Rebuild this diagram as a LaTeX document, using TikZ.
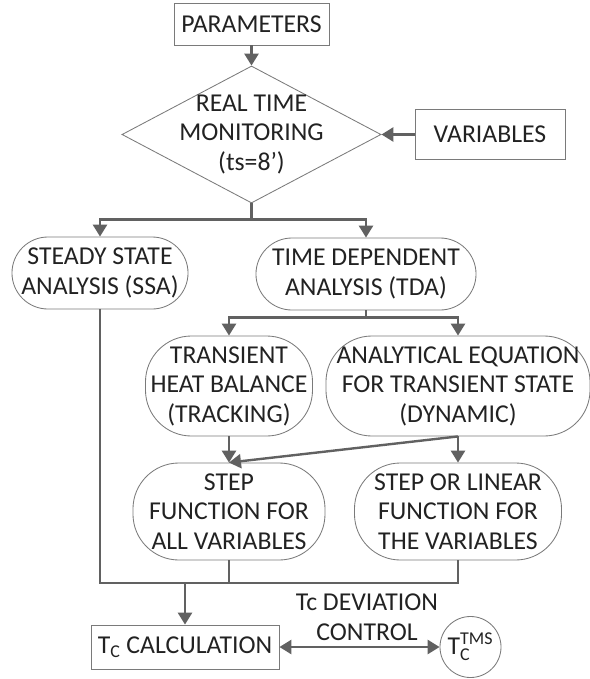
\documentclass[tikz,border=0pt]{standalone}
\usepackage{fontspec}
\setmainfont{Carlito}
\usepackage{amsmath}
\usepackage{tikz}
\usetikzlibrary{shapes.geometric,arrows.meta}

\definecolor{txtgray}{HTML}{222222}
\definecolor{boxgray}{HTML}{7A7A7A}
\definecolor{linegray}{HTML}{616161}

\tikzset{
  every node/.style={font=\fontsize{18.3}{21}\selectfont, text=txtgray, align=center, inner sep=0pt},
  box/.style={draw=boxgray, line width=0.6pt},
  pill/.style={box, rounded corners=0.9cm},
  tallpill/.style={box, rounded corners=1.15cm},
  link/.style={draw=linegray, line width=1.7pt},
  flow/.style={link, -{Triangle[length=8.5pt,width=10pt]}}
}

\begin{document}
\begin{tikzpicture}[x=0.025cm, y=-0.025cm]
\useasboundingbox (0,0) rectangle (590,679);

\node[box, minimum width=3.875cm, minimum height=1.05cm] (params) at (251.5,24) {PARAMETERS};
\node[box, diamond, minimum width=6.475cm, minimum height=3.425cm] (monitor) at (251.5,134.5) {};
\node (monitortext) at (monitor) {REAL TIME\\MONITORING\\(ts=8')};
\node[box, minimum width=3.75cm, minimum height=1.25cm] (variables) at (490,134.5) {VARIABLES};

\node[pill, minimum width=4.4cm, minimum height=1.8cm] (ssa) at (100,273) {STEADY STATE\\ANALYSIS (SSA)};
\node[pill, minimum width=5.5cm, minimum height=1.8cm] (tda) at (366,274) {TIME DEPENDENT\\ANALYSIS (TDA)};

\node[tallpill, minimum width=4.175cm, minimum height=2.5cm] (heat) at (229,386) {TRANSIENT\\HEAT BALANCE\\(TRACKING)};
\node[tallpill, minimum width=6.6cm, minimum height=2.5cm] (analytic) at (458,386) {ANALYTICAL EQUATION\\FOR TRANSIENT STATE\\(DYNAMIC)};

\node[tallpill, minimum width=4.8cm, minimum height=2.425cm] (stepall) at (229,511.5) {STEP\\FUNCTION FOR\\ALL VARIABLES};
\node[tallpill, minimum width=5.175cm, minimum height=2.425cm] (steplin) at (458,511.5) {STEP OR LINEAR\\FUNCTION FOR\\THE VARIABLES};

\node[box, minimum width=4.7cm, minimum height=1.1cm] (calc) at (185,647) {T\textsubscript{C} CALCULATION};
\node[box, circle, minimum size=1.525cm] (tms) at (470.5,647) {$\text{T}_{\text{C}}^{\text{TMS}}$};
\node (devlabel) at (367,617) {Tc DEVIATION\\CONTROL};

% top part
\draw[flow] (params) -- (monitor);
\draw[flow] (variables) -- (monitor);
\draw[link] (monitor.south) -- ++(0,16) coordinate (split1);
\draw[flow] (split1) -| (ssa.north);
\draw[flow] (split1) -| (tda.north);

% time dependent branch
\draw[link] (tda.south) -- ++(0,7) coordinate (split2);
\draw[flow] (split2) -| (heat.north);
\draw[flow] (split2) -| (analytic.north);
\draw[flow] (heat) -- (stepall);
\draw[flow] (analytic.south) -- (steplin.north);
\draw[flow] (analytic.south) -- (stepall.north);

% merge to calculation
\coordinate (merge) at (185,583);
\draw[link] (ssa.south) |- (steplin.south |- merge) -- (steplin.south);
\draw[link] (stepall.south) -- (stepall.south |- merge);
\draw[flow] (merge) -- (calc);
\draw[flow, {Triangle[length=8.5pt,width=10pt]}-{Triangle[length=8.5pt,width=10pt]}] (calc) -- (tms);
\end{tikzpicture}
\end{document}
